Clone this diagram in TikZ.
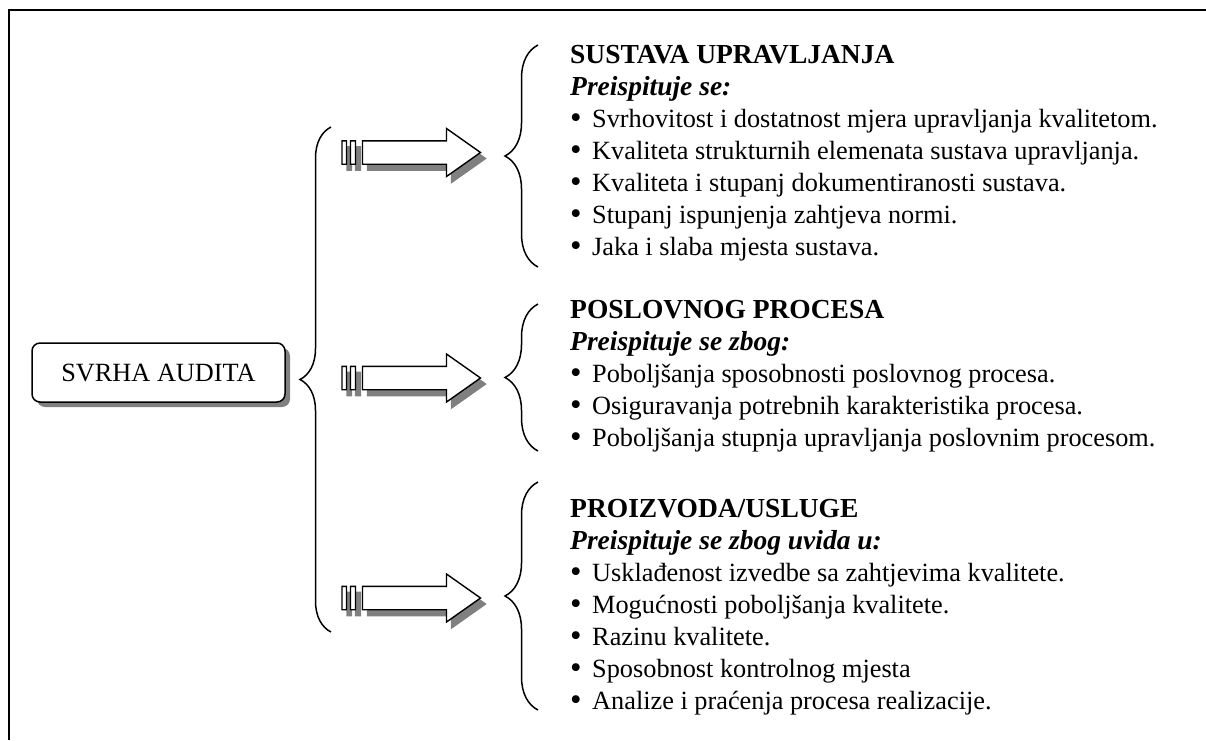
\documentclass[tikz,border=0pt]{standalone}
\usepackage{fontspec}
\setmainfont{Liberation Serif}
\usetikzlibrary{decorations.pathreplacing, shadows}
\definecolor{SGray}{HTML}{808080}
\newcommand{\itm}{\makebox[22pt][l]{\raisebox{-1.5pt}{\scalebox{1.25}{\textbullet}}}}
\newcommand{\hd}[1]{{\fontsize{27.5}{32}\selectfont\bfseries #1}}
\newcommand{\ArrowPath}{
    (0,-11.7) rectangle (4.5,11.7)
    (8.5,-11.7) rectangle (13.5,11.7)
    (20.5,-11.7) -- (104.5,-11.7) -- (104.5,-24) -- (138.5,0)
    -- (104.5,24) -- (104.5,11.7) -- (20.5,11.7) -- cycle
}
\NewDocumentCommand{\BlockArrow}{O{(0,0)}}{
    \begin{scope}[shift={#1}]
    \begin{scope}[shift={(5,6)}]
    \filldraw[SGray, line width=1.4] \ArrowPath;
    \end{scope}
    \filldraw[fill=white, draw=black, line width=1.4] \ArrowPath;
    \end{scope}
}
\tikzset{
    mainbox/.style={draw, line width=1.5, rounded corners=8, fill=white,
        minimum width=253, minimum height=59, inner sep=0,
        drop shadow={shadow xshift=5pt, shadow yshift=-5pt, fill=SGray, opacity=1}},
    group/.style={anchor=base west, align=left, inner sep=0},
    curly/.style={line width=1.5, decorate, decoration={brace, amplitude=#1}},
}

\begin{document}
\begin{tikzpicture}[x=1pt, y=-1pt, font=\fontsize{26.3}{32}\selectfont]
\useasboundingbox (0,0) rectangle (1206,740);

% frame
\draw[line width=2.6] (9,740) -- (9,10) -- (1206,10);

\node[mainbox] (audit) at (158.5,372.5) {SVRHA AUDITA};

\coordinate (main-top) at (331,127);
\coordinate (main-bot) at (331,632);
\draw[curly=31] (main-bot) -- (main-top);

\BlockArrow[(342,152.5)]
\BlockArrow[(342,378)]
\BlockArrow[(342,598)]

\coordinate (sys-top) at (538,45);
\coordinate (sys-bot) at (538,267);
\coordinate (proc-top) at (538,304);
\coordinate (proc-bot) at (538,451);
\coordinate (prod-top) at (538,482);
\coordinate (prod-bot) at (538,710);
\draw[curly=33] (sys-bot) -- (sys-top);
\draw[curly=33] (proc-bot) -- (proc-top);
\draw[curly=33] (prod-bot) -- (prod-top);

% base = last line
\node[group] (sys) at (570,255) {\hd{SUSTAVA UPRAVLJANJA}\\
    \hd{\textit{Preispituje se:}}\\
    \itm Svrhovitost i dostatnost mjera upravljanja kvalitetom.\\
    \itm Kvaliteta strukturnih elemenata sustava upravljanja.\\
    \itm Kvaliteta i stupanj dokumentiranosti sustava.\\
    \itm Stupanj ispunjenja zahtjeva normi.\\
    \itm Jaka i slaba mjesta sustava.};

\node[group] (proc) at (570,446) {\hd{POSLOVNOG PROCESA}\\
    \hd{\textit{Preispituje se zbog:}}\\
    \itm Poboljšanja sposobnosti poslovnog procesa.\\
    \itm Osiguravanja potrebnih karakteristika procesa.\\
    \itm Poboljšanja stupnja upravljanja poslovnim procesom.};

\node[group] (prod) at (570,709) {\hd{PROIZVODA/USLUGE}\\
    \hd{\textit{Preispituje se zbog uvida u:}}\\
    \itm Usklađenost izvedbe sa zahtjevima kvalitete.\\
    \itm Mogućnosti poboljšanja kvalitete.\\
    \itm Razinu kvalitete.\\
    \itm Sposobnost kontrolnog mjesta\\
    \itm Analize i praćenja procesa realizacije.};

\end{tikzpicture}
\end{document}
